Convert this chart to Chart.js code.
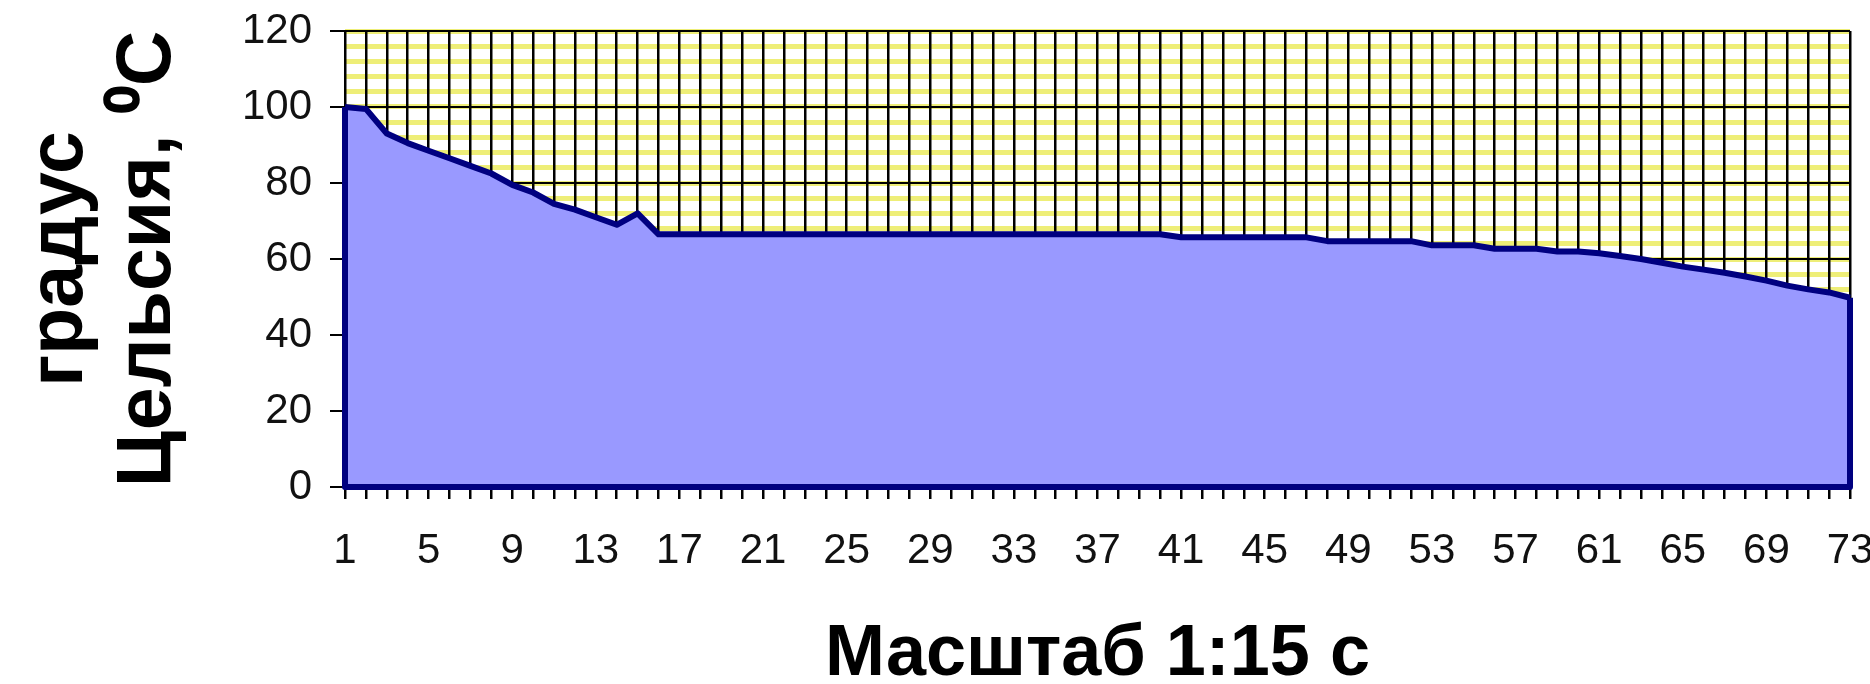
<!DOCTYPE html>
<html>
<head>
<meta charset="utf-8">
<script src="https://cdn.jsdelivr.net/npm/chart.js@4"></script>
<style>
  body { margin: 0; background: #fff; }
  #wrap { width: 1870px; height: 684px; }
</style>
</head>
<body>
<div id="wrap"><canvas id="tempChart"></canvas></div>
<script>
// categories (step number, 1:15 s)
const steps = ['1','2','3','4','5','6','7','8','9','10','11','12','13','14','15','16','17','18','19','20',
    '21','22','23','24','25','26','27','28','29','30','31','32','33','34','35','36','37','38','39','40',
    '41','42','43','44','45','46','47','48','49','50','51','52','53','54','55','56','57','58','59','60',
    '61','62','63','64','65','66','67','68','69','70','71','72','73']

// temperature
const temps = [100, 99.5, 93, 90.5, 88.5, 86.5, 84.5, 82.5, 79.5, 77.5,
    74.5, 73, 71, 69, 72, 66.5, 66.5, 66.5, 66.5, 66.5,
    66.5, 66.5, 66.5, 66.5, 66.5, 66.5, 66.5, 66.5, 66.5, 66.5,
    66.5, 66.5, 66.5, 66.5, 66.5, 66.5, 66.5, 66.5, 66.5, 66.5,
    65.7, 65.7, 65.7, 65.7, 65.7, 65.7, 65.7, 64.7, 64.7, 64.7,
    64.7, 64.7, 63.6, 63.6, 63.6, 62.7, 62.7, 62.7, 62, 62,
    61.5, 60.8, 60, 59, 58, 57.2, 56.4, 55.4, 54.3, 53,
    52, 51.2, 49.8]

const yTitle = ['градус', 'Цельсия, ⁰C']
const xTitle = 'Масштаб 1:15 с'

const tickFont = { family: "'Liberation Sans Narrow', 'Liberation Sans', Arial, sans-serif", size: 42 }
const titleFont = { family: "'Liberation Sans', Arial, sans-serif", weight: 'bold' }

//outline of the area: left drop, bottom, right drop
const areaEdges = {
    id: 'areaEdges',
    afterDatasetsDraw(chart) {
        const pts = chart.getDatasetMeta(0).data
        const y0 = chart.scales.y.getPixelForValue(0)
        const first = pts[0]
        const last = pts[pts.length - 1]
        const c = chart.ctx
        c.save()
        c.strokeStyle = '#000080'
        c.lineWidth = 6
        c.lineJoin = 'round'
        c.beginPath()
        c.moveTo(first.x, first.y)
        c.lineTo(first.x, y0)
        c.lineTo(last.x, y0)
        c.lineTo(last.x, last.y)
        c.stroke()
        c.restore()
    }
}

//chart
const drawTempChart = () => {
    const ctx = document.getElementById('tempChart').getContext('2d')
    const tempChart = new Chart(ctx, {
        type: 'line',
        data: {
            labels: steps,
            datasets: [{
                data: temps,
                fill: 'origin',
                backgroundColor: '#9999ff',
                borderColor: '#000080',
                borderWidth: 6,
                borderJoinStyle: 'round',
                pointRadius: 0,
                tension: 0
            }]
        },
        plugins: [areaEdges],
        options: {
            responsive: true,
            maintainAspectRatio: false,
            animation: false,
            layout: { padding: { left: 0, top: 31, right: 20, bottom: 0 } },
            plugins: {
                legend: { display: false },
                tooltip: { enabled: false }
            },
            scales: {
                x: {
                    offset: false,
                    grid: { color: '#000', lineWidth: 2.5, tickLength: 12, tickColor: '#000' },
                    border: { color: '#000', width: 2 },
                    ticks: {
                        autoSkip: false,
                        maxRotation: 0,
                        color: '#111',
                        font: tickFont,
                        padding: 27,
                        callback: (v, i) => i % 4 === 0 ? steps[i] : ''
                    },
                    title: {
                        display: true,
                        text: xTitle,
                        color: '#000',
                        font: { ...titleFont, size: 72, lineHeight: 0.8 },
                        padding: 0
                    },
                    afterFit: (s) => { s.height = 197; s.paddingLeft = 0; s.paddingRight = 0 }
                },
                y: {
                    min: 0,
                    max: 120,
                    grid: { color: '#000', lineWidth: 2, tickLength: 15, tickColor: '#000' },
                    border: { color: '#000', width: 2 },
                    ticks: { stepSize: 20, color: '#111', font: tickFont, padding: 18 },
                    title: {
                        display: true,
                        text: yTitle,
                        color: '#000',
                        font: { ...titleFont, size: 77, lineHeight: 1.15 },
                        padding: { top: 16, bottom: 0 }
                    },
                    afterFit: (s) => { s.width = 345; s.paddingTop = 0; s.paddingBottom = 0 }
                },
                //yellow stripes behind the grid
                yMinor: {
                    position: 'left',
                    min: 0,
                    max: 120,
                    ticks: { display: false, stepSize: 4 },
                    grid: { color: '#eeee77', lineWidth: 5, drawTicks: false, z: -5 },
                    border: { display: false },
                    afterFit: (s) => { s.width = 0; s.paddingTop = 0; s.paddingBottom = 0 }
                }
            }
        }
    })
}

drawTempChart()
</script>
</body>
</html>
